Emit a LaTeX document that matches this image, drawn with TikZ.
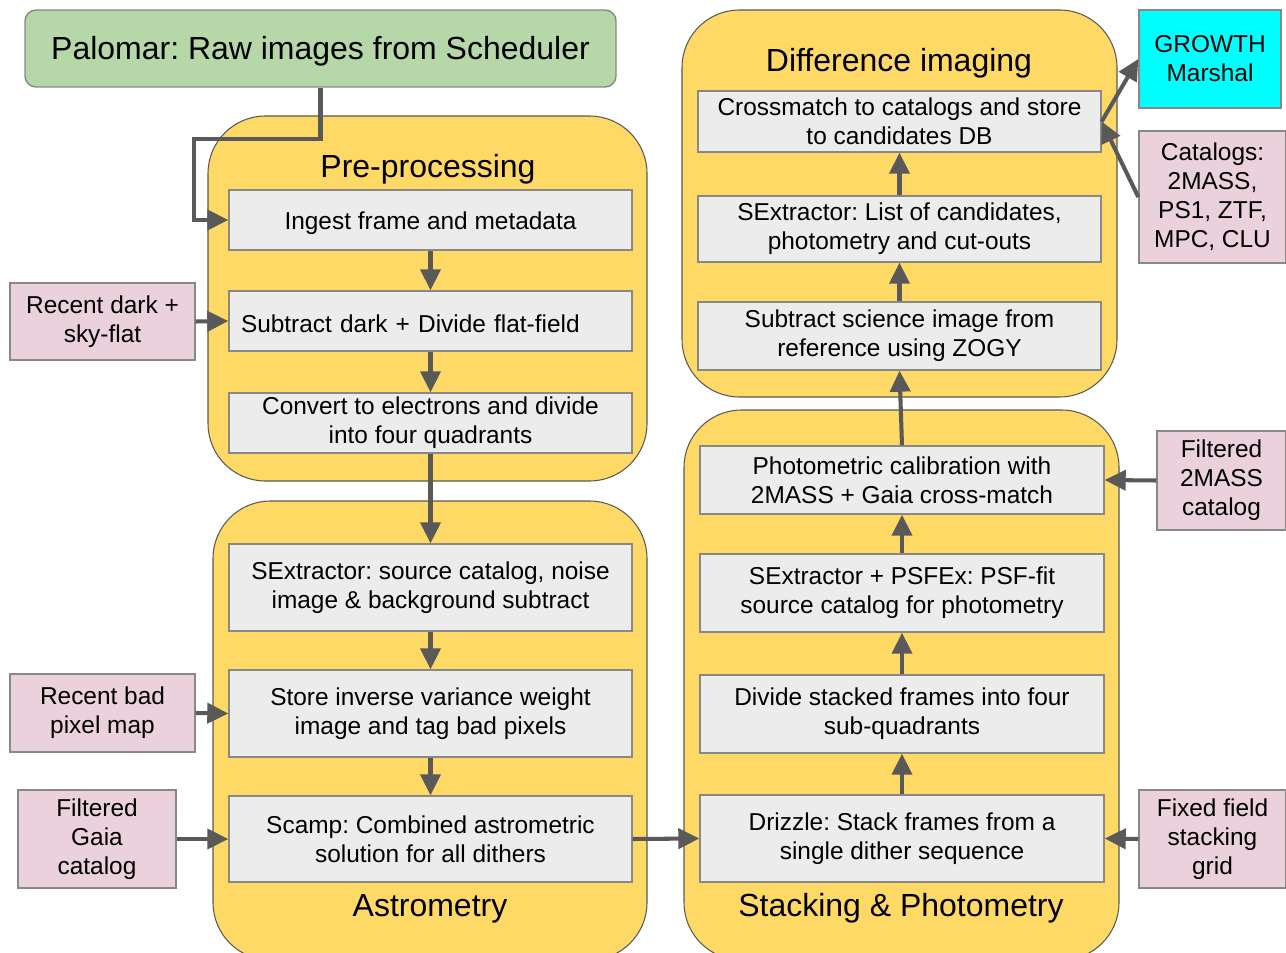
\documentclass[tikz,border=0pt]{standalone}
\usepackage{fontspec}
\setmainfont{Liberation Sans}
\usetikzlibrary{arrows.meta,calc}
\definecolor{contfill}{HTML}{FFD966}
\definecolor{stepfill}{HTML}{ECECEC}
\definecolor{pinkfill}{HTML}{EAD1DC}
\definecolor{greenfill}{HTML}{B6D7A8}
\definecolor{cyanfill}{HTML}{00FFFF}
\definecolor{arrcol}{HTML}{595959}
\definecolor{edgecol}{HTML}{888888}
\tikzset{
  container/.style={fill=contfill, draw=arrcol, line width=0.6pt, rounded corners=1.15cm},
  lowtext/.style={execute at begin node={\rule{0pt}{13.4pt}}},
  stepbox/.style={fill=stepfill, draw=edgecol, line width=0.8pt, inner sep=0pt, align=center, font=\fontsize{13.9}{16.5}\selectfont, lowtext},
  inbox/.style={fill=pinkfill, draw=edgecol, line width=0.8pt, inner sep=0pt, align=center, font=\fontsize{13.9}{16.5}\selectfont, lowtext},
  titletext/.style={font=\fontsize{18.2}{21}\selectfont, inner sep=0pt},
  arr/.style={draw=arrcol, line width=2.3pt, -{Triangle[length=0.42cm,width=0.4cm]}},
}
\begin{document}
\frenchspacing
\begin{tikzpicture}
\useasboundingbox (0,0) rectangle (25.72,-19.06);
% containers
\draw[container] (4.16,-2.32) rectangle (12.94,-9.62);
\draw[container] (4.26,-10.02) rectangle (12.94,-19.2);
\draw[container] (13.64,-0.2) rectangle (22.34,-7.94);
\draw[container] (13.68,-8.2) rectangle (22.38,-19.2);
% titles
\node[titletext] (tpre) at (8.56,-3.38) {Pre-processing};
\node[titletext] (tast) at (8.6,-18.17) {Astrometry};
\node[titletext] (tdiff) at (17.98,-1.26) {Difference imaging};
\node[titletext] (tstack) at (18.02,-18.17) {Stacking \& Photometry};
% source
\node[fill=greenfill, draw=edgecol, line width=0.8pt, rounded corners=0.22cm, minimum width=11.82cm, minimum height=1.54cm, inner sep=0pt, font=\fontsize{18.2}{21}\selectfont] (palomar) at (6.41,-0.97) {\raisebox{-1.6pt}[\height][\depth]{Palomar: Raw images from Scheduler}};
% pre-processing steps
\node[stepbox, minimum width=8.06cm, minimum height=1.2cm] (ingest) at (8.61,-4.40) {Ingest frame and metadata};
\node[stepbox, text width=7.58cm, inner xsep=0.24cm, align=left, minimum height=1.2cm] (subdark) at (8.61,-6.42) {Subtract dark + Divide flat-field};
\node[stepbox, minimum width=8.06cm, minimum height=1.2cm] (convert) at (8.61,-8.46) {Convert to electrons and divide\\into four quadrants};
% astrometry steps
\node[stepbox, minimum width=8.06cm, minimum height=1.74cm] (sexsrc) at (8.61,-11.75) {SExtractor: source catalog, noise\\image \& background subtract};
\node[stepbox, minimum width=8.06cm, minimum height=1.74cm] (store) at (8.61,-14.27) {Store inverse variance weight\\image and tag bad pixels};
\node[stepbox, minimum width=8.06cm, minimum height=1.72cm] (scamp) at (8.61,-16.78) {Scamp: Combined astrometric\\solution for all dithers};
% difference imaging steps
\node[stepbox, minimum width=8.06cm, minimum height=1.22cm] (xmatch) at (17.99,-2.43) {Crossmatch to catalogs and store\\to candidates DB};
\node[stepbox, minimum width=8.06cm, minimum height=1.32cm] (sexlist) at (17.99,-4.58) {SExtractor: List of candidates,\\photometry and cut-outs};
\node[stepbox, minimum width=8.06cm, minimum height=1.36cm] (zogy) at (17.99,-6.72) {Subtract science image from\\reference using ZOGY};
% stacking steps
\node[stepbox, minimum width=8.08cm, minimum height=1.36cm] (photcal) at (18.04,-9.60) {Photometric calibration with\\2MASS + Gaia cross-match};
\node[stepbox, minimum width=8.08cm, minimum height=1.56cm] (psfex) at (18.04,-11.86) {SExtractor + PSFEx: PSF-fit\\source catalog for photometry};
\node[stepbox, minimum width=8.08cm, minimum height=1.56cm] (divide) at (18.04,-14.28) {Divide stacked frames into four\\sub-quadrants};
\node[stepbox, minimum width=8.08cm, minimum height=1.74cm] (drizzle) at (18.04,-16.77) {Drizzle: Stack frames from a\\single dither sequence};
% inputs / outputs
\node[inbox, minimum width=3.7cm, minimum height=1.54cm] (darkflat) at (2.05,-6.43) {Recent dark +\\sky-flat};
\node[inbox, minimum width=3.7cm, minimum height=1.56cm] (badpix) at (2.05,-14.26) {Recent bad\\pixel map};
\node[inbox, minimum width=3.16cm, minimum height=1.96cm] (gaia) at (1.94,-16.78) {Filtered\\Gaia\\catalog};
\node[inbox, fill=cyanfill, minimum width=2.84cm, minimum height=1.96cm] (growth) at (24.2,-1.18) {GROWTH\\Marshal};
\node[inbox, minimum width=2.94cm, minimum height=2.64cm] (catalogs) at (24.25,-3.94) {Catalogs:\\2MASS,\\PS1, ZTF,\\MPC, CLU};
\node[inbox, minimum width=2.58cm, minimum height=1.98cm] (tmass) at (24.43,-9.61) {Filtered\\2MASS\\catalog};
\node[inbox, minimum width=2.94cm, minimum height=1.96cm] (grid) at (24.25,-16.78) {Fixed field\\stacking\\grid};
% connectors
\draw[arr] (palomar.south) -- ++(0,-1.02) -| ($(ingest.west)+(-0.68,0)$) -- (ingest.west);
\draw[arr] (ingest.south) -- (subdark.north);
\draw[arr] (subdark.south) -- (convert.north);
\draw[arr] (convert.south) -- (sexsrc.north);
\draw[arr] (sexsrc.south) -- (store.north);
\draw[arr] (store.south) -- (scamp.north);
\draw[arr] (darkflat.east) -- (subdark.west);
\draw[arr] (badpix.east) -- (store.west);
\draw[arr] (gaia.east) -- (scamp.west);
\draw[arr] (scamp.east) -- (drizzle.west);
\draw[arr] (grid.west) -- (drizzle.east);
\draw[arr] (drizzle.north) -- (divide.south);
\draw[arr] (divide.north) -- (psfex.south);
\draw[arr] (psfex.north) -- (photcal.south);
\draw[arr] (tmass.west) -- (photcal.east);
\draw[arr] (photcal.north) -- (zogy.south);
\draw[arr] (zogy.north) -- (sexlist.south);
\draw[arr] (sexlist.north) -- (xmatch.south);
\draw[arr] (xmatch.east) -- (growth.west);
\draw[arr] (catalogs.west) -- (xmatch.east);
\end{tikzpicture}
\end{document}
